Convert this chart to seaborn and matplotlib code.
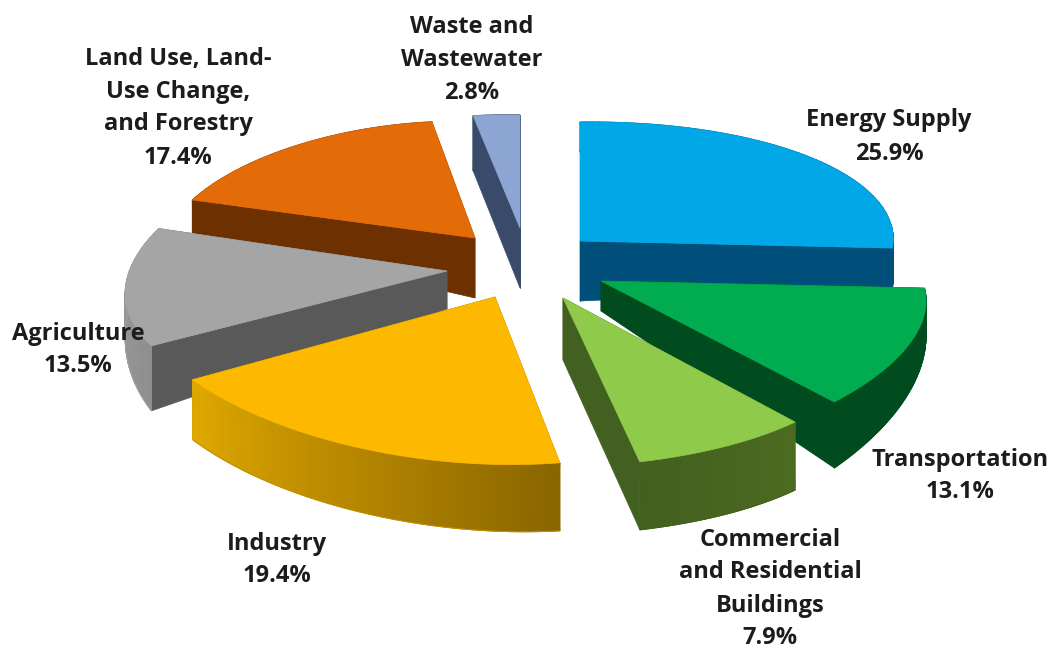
import numpy as np
import matplotlib
matplotlib.use("Agg")
import matplotlib.pyplot as plt
from matplotlib.colors import LinearSegmentedColormap
import seaborn as sns

# Emissions share by sector, clockwise from twelve o'clock
sectors = ["Energy Supply", "Transportation", "Commercial\nand Residential\nBuildings",
           "Industry", "Agriculture", "Land Use, Land-\nUse Change,\nand Forestry",
           "Waste and\nWastewater"]
shares = [25.9, 13.1, 7.9, 19.4, 13.5, 17.4, 2.8]

top_colors = ["#00a8e8", "#00ac4f", "#8fca4a", "#fcb900", "#a5a5a5", "#e36c09", "#8ca5d3"]
cut_colors = ["#004f7a", "#004c1e", "#42601f", "#8a6500", "#595959", "#6d3000", "#3a4a6b"]
rim_start = ["#004f7a", "#004c1e", "#4d6b20", "#8a6500", "#8f8f8f", "#6d3000", "#3a4a6b"]
rim_end = ["#004f7a", "#004c1e", "#42601f", "#e0a800", "#a0a0a0", "#6d3000", "#3a4a6b"]

# Slice geometry on the pixel-sized canvas
pie_center = (520, 275)
explode_x = [60, 81, 43, -25, -73, -45, 0]
explode_y = [-34, 6, 23, 22, -4, -37, -47]
radius_x = [(320, 313), (324, 366), (364, 397), (335, 354), (346, 302), (296, 246), (268, 268)]
radius_y = [(119, 125), (125, 157), (161, 167), (169, 159), (144, 143), (128, 118), (114, 113)]
rim_depth = [(30, 39), (30, 66), (68, 68), (68, 60), (65, 20), (33, 30), (55, 55)]
apex_depth = [60, 30, 62, 60, 38, 60, 60]
paint_order = [6, 5, 4, 0, 1, 3, 2]

label_x = [889, 960, 770, 277, 78, 178, 472]
label_y = [137, 476, 589, 560, 350, 108, 60]

sns.set_theme(style="white")
plt.rcParams["font.family"] = ["Open Sans", "DejaVu Sans"]
top_palette = sns.color_palette(top_colors)
cut_palette = sns.color_palette(cut_colors)

fig, ax = plt.subplots(figsize=(10.52, 6.49), dpi=100)
ax.set_position([0, 0, 1, 1])
ax.set_xlim(0, 1052)
ax.set_ylim(649, 0)
ax.axis("off")

edges = np.cumsum([0] + shares) / sum(shares) * 2 * np.pi


def rim_points(i, n=80):
    """Outer arc of slice i with the matching wall depth at each step."""
    s = np.linspace(0, 1, n)
    theta = edges[i] + s * (edges[i + 1] - edges[i])
    apex_x = pie_center[0] + explode_x[i]
    apex_y = pie_center[1] + explode_y[i]
    rx = radius_x[i][0] + s * (radius_x[i][1] - radius_x[i][0])
    ry = radius_y[i][0] + s * (radius_y[i][1] - radius_y[i][0])
    depth = rim_depth[i][0] + s * (rim_depth[i][1] - rim_depth[i][0])
    return s, apex_x, apex_y, apex_x + rx * np.sin(theta), apex_y - ry * np.cos(theta), depth


for layer, i in enumerate(paint_order):
    s, ax_, ay_, x, y, d = rim_points(i)
    low = y + d
    # Radial faces sit under the slice top
    for k in (0, -1):
        ax.fill([ax_, x[k], x[k], ax_], [ay_, y[k], low[k], ay_ + apex_depth[i]],
                color=cut_palette[i], lw=0.5, zorder=1 + layer * 3)
    # Outer wall, smoothly shaded along the arc
    wall_cmap = LinearSegmentedColormap.from_list(f"wall{i}", [rim_start[i], rim_end[i]])
    ax.pcolormesh(np.vstack([x, x]), np.vstack([y, low]), np.vstack([s, s]),
                  shading="gouraud", cmap=wall_cmap, vmin=0, vmax=1, zorder=2 + layer * 3)
    ax.plot(x, low, color=rim_end[i] if i != 3 else "#c29200", lw=0.7, zorder=2 + layer * 3)
    ax.fill(np.r_[ax_, x], np.r_[ay_, y], color=top_palette[i], lw=0.5, zorder=3 + layer * 3)

for name, share, lx, ly in zip(sectors, shares, label_x, label_y):
    ax.text(lx, ly, f"{name}\n{share}%", ha="center", va="center", fontsize=17,
            fontweight="bold", color="#1c1c1c", linespacing=1.5, zorder=50)

fig.savefig("out.png", dpi=100, facecolor="white")
